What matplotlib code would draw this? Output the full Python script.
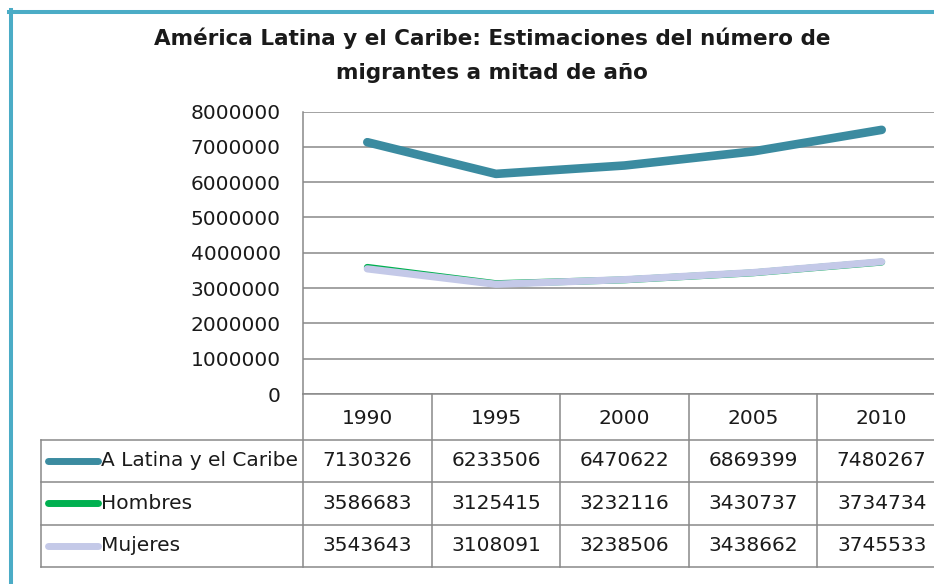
import matplotlib
matplotlib.use('Agg')
import matplotlib.pyplot as plt
from matplotlib.lines import Line2D
import numpy as np

plt.rcParams['font.family'] = ['DejaVu Sans']

# datos
years = ['1990', '1995', '2000', '2005', '2010']
series_names = ['A Latina y el Caribe', 'Hombres', 'Mujeres']
total = [7130326, 6233506, 6470622, 6869399, 7480267]
hombres = [3586683, 3125415, 3232116, 3430737, 3734734]
mujeres = [3543643, 3108091, 3238506, 3438662, 3745533]
yticks = [0, 1000000, 2000000, 3000000, 4000000, 5000000, 6000000, 7000000, 8000000]

title = u'América Latina y el Caribe: Estimaciones del número de\nmigrantes a mitad de año'

colors = ['#3b8ba0', '#00b050', '#c4c9e8']
widths = [6.2, 5.0, 5.2]
grid_c = '#898989'
txt_c = '#1a1a1a'

W, H = 934, 584
fig = plt.figure(figsize=(W / 100, H / 100), dpi=100)

# pixel -> fraccion de figura
def fx(px):
    return px / W

def fy(py):
    return 1 - py / H

# marco exterior
fig.add_artist(Line2D([fx(11), fx(11)], [fy(10), 0], color='#4bacc6', lw=2.9,
                      transform=fig.transFigure))
fig.add_artist(Line2D([fx(9), 1], [fy(12), fy(12)], color='#4bacc6', lw=2.9,
                      transform=fig.transFigure))

fig.text(fx(492), fy(55), title, ha='center', va='center', fontsize=15.5,
         fontweight='bold', linespacing=1.87, color=txt_c)

# area de grafico
left, right, top, bottom = 303, 946, 111.5, 394
ax = fig.add_axes([fx(left), fy(bottom), fx(right - left), (bottom - top) / H])
x = np.arange(len(years))
data = [total, hombres, mujeres]
for vals, c, lw in zip(data, colors, widths):
    ax.plot(x, vals, color=c, lw=lw, solid_capstyle='round', solid_joinstyle='round',
            clip_on=False)

ax.set_xlim(-0.5, len(years) - 0.5)
ax.set_ylim(0, 8000000)
ax.set_yticks(yticks)
ax.set_yticklabels([str(v) for v in yticks], fontsize=14.5, color=txt_c)
ax.tick_params(axis='y', length=0, pad=16)
ax.set_xticks([])
ax.grid(axis='y', color=grid_c, lw=1.1)
ax.set_axisbelow(True)
for s in ['top', 'right', 'bottom']:
    ax.spines[s].set_visible(False)
ax.spines['left'].set_color(grid_c)
ax.spines['left'].set_linewidth(1.1)

# tabla de datos
row_y = [394, 440, 482, 524.5, 567]  # px
col_w = (right - left) / len(years)
leg_left = 41
tr = fig.transFigure

def hline(x0, x1, y):
    fig.add_artist(Line2D([fx(x0), fx(x1)], [fy(y), fy(y)], color=grid_c, lw=1.1, transform=tr))

def vline(xp, y0, y1):
    fig.add_artist(Line2D([fx(xp), fx(xp)], [fy(y0), fy(y1)], color=grid_c, lw=1.1, transform=tr))

for y in row_y[1:]:
    hline(leg_left, W, y)
hline(left, W, row_y[0])
for k in range(len(years) + 1):
    vline(left + k * col_w, row_y[0], row_y[-1])
vline(leg_left, row_y[1], row_y[-1])

for k, yr in enumerate(years):
    fig.text(fx(left + (k + 0.5) * col_w), fy((row_y[0] + row_y[1]) / 2 + 1), yr,
             ha='center', va='center', fontsize=14.5, color=txt_c)

for r, (name, vals, c) in enumerate(zip(series_names, data, colors)):
    yc = (row_y[r + 1] + row_y[r + 2]) / 2
    fig.add_artist(Line2D([fx(48), fx(98)], [fy(yc), fy(yc)], color=c, lw=5.0,
                          solid_capstyle='round', transform=tr))
    fig.text(fx(101), fy(yc), name, ha='left', va='center', fontsize=14.5, color=txt_c)
    for k, v in enumerate(vals):
        fig.text(fx(left + (k + 0.5) * col_w), fy(yc), str(v), ha='center', va='center',
                 fontsize=14.5, color=txt_c)

plt.savefig('out.png', dpi=100)
